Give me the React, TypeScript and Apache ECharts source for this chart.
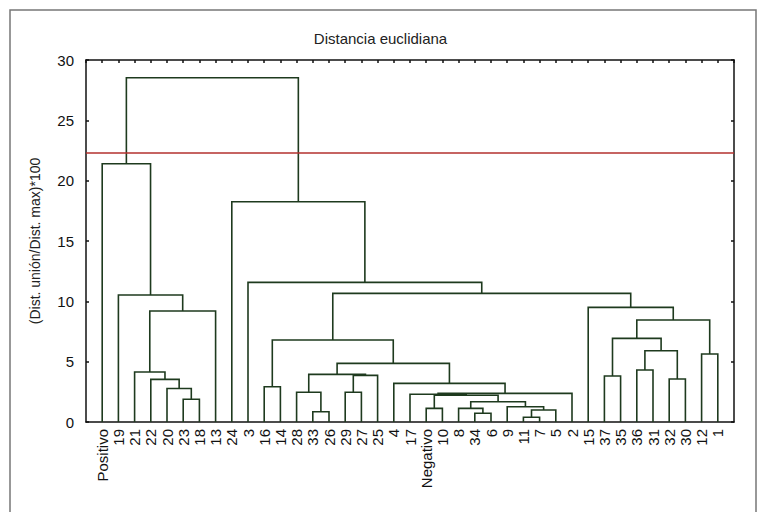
import React, { useEffect, useRef } from "react";
import * as echarts from "echarts";

// Leaf order along the x axis (left to right)
const leaves: string[] = [
  "Positivo", "19", "21", "22", "20", "23", "18", "13", "24", "3",
  "16", "14", "28", "33", "26", "29", "27", "25", "4", "17",
  "Negativo", "10", "8", "34", "6", "9", "11", "7", "5", "2",
  "15", "37", "35", "36", "31", "32", "30", "12", "1",
];

// Merges: [childA, childB, height]; "mK" refers to the K-th merge
const merges: [string, string, number][] = [
  ["23", "18", 1.88],        // m0
  ["20", "m0", 2.78],        // m1
  ["22", "m1", 3.53],        // m2
  ["21", "m2", 4.14],        // m3
  ["m3", "13", 9.2],         // m4
  ["19", "m4", 10.52],       // m5
  ["Positivo", "m5", 21.4],  // m6
  ["16", "14", 2.92],        // m7
  ["33", "26", 0.85],        // m8
  ["28", "m8", 2.46],        // m9
  ["29", "27", 2.46],        // m10
  ["m10", "25", 3.86],       // m11
  ["m9", "m11", 3.95],       // m12
  ["Negativo", "10", 1.13],  // m13
  ["34", "6", 0.72],         // m14
  ["8", "m14", 1.13],        // m15
  ["11", "7", 0.39],         // m16
  ["m16", "5", 0.99],        // m17
  ["9", "m17", 1.27],        // m18
  ["m15", "m18", 1.68],      // m19
  ["m13", "m19", 2.22],      // m20
  ["17", "m20", 2.3],        // m21
  ["m21", "2", 2.37],        // m22
  ["4", "m22", 3.2],         // m23
  ["m12", "m23", 4.86],      // m24
  ["m7", "m24", 6.79],       // m25
  ["37", "35", 3.81],        // m26
  ["36", "31", 4.31],        // m27
  ["32", "30", 3.56],        // m28
  ["m27", "m28", 5.9],       // m29
  ["m26", "m29", 6.93],      // m30
  ["12", "1", 5.63],         // m31
  ["m30", "m31", 8.45],      // m32
  ["15", "m32", 9.5],        // m33
  ["m25", "m33", 10.66],     // m34
  ["3", "m34", 11.57],       // m35
  ["24", "m35", 18.25],      // m36
  ["m6", "m36", 28.53],      // m37
];

const cutHeight = 22.3;
const yTicks = { min: 0, max: 30, interval: 5 };
const titleText = "Distancia euclidiana";
const yName = "(Dist. unión/Dist. max)*100";

const FONT = "'Liberation Sans', Arial, sans-serif";

export default function App() {
  const ref = useRef<HTMLDivElement>(null);

  useEffect(() => {
    if (!ref.current) return;
    const chart = echarts.init(ref.current, undefined, { renderer: "svg" });

    const pos: Record<string, { x: number; y: number }> = {};
    leaves.forEach((l, i) => (pos[l] = { x: i, y: 0 }));
    const segs: number[][] = [];
    merges.forEach(([a, b, h], i) => {
      const pa = pos[a];
      const pb = pos[b];
      segs.push([pa.x, pb.x, pa.y, pb.y, h]);
      pos["m" + i] = { x: (pa.x + pb.x) / 2, y: h };
    });

    const axisLineStyle = { color: "#111", width: 1.5 };
    const tickStyle = { color: "#111", width: 1.5 };
    const xMin = -1;
    const xMax = leaves.length;

    chart.setOption({
      animation: false,
      textStyle: { fontFamily: FONT },
      title: {
        text: titleText,
        left: "center",
        top: 26,
        textStyle: { fontSize: 15, fontWeight: "normal", color: "#222", fontFamily: FONT },
      },
      graphic: [
        {
          type: "rect",
          shape: { x: 10, y: 10, width: 746, height: 530 },
          style: { fill: "none", stroke: "#777", lineWidth: 1.5 },
          silent: true,
        },
      ],
      grid: { left: 86, right: 27, top: 60, bottom: 90, containLabel: false },
      xAxis: [
        {
          type: "value",
          min: xMin,
          max: xMax,
          interval: 1,
          position: "bottom",
          axisLine: { show: true, onZero: false, lineStyle: axisLineStyle },
          axisTick: { show: false },
          splitLine: { show: false },
          axisLabel: {
            rotate: 90,
            margin: 7,
            fontSize: 15,
            color: "#111",
            fontFamily: FONT,
            formatter: (v: number) => leaves[Math.round(v)] ?? "",
          },
        },
        {
          type: "value",
          min: xMin,
          max: xMax,
          interval: 1,
          position: "top",
          axisLine: { show: true, onZero: false, lineStyle: axisLineStyle },
          axisTick: { show: true, inside: true, length: 3, lineStyle: tickStyle },
          splitLine: { show: false },
          axisLabel: { show: false },
        },
      ],
      yAxis: [
        {
          type: "value",
          ...yTicks,
          position: "left",
          name: yName,
          nameLocation: "middle",
          nameGap: 44,
          nameTextStyle: { fontSize: 14, color: "#222", fontFamily: FONT },
          axisLine: { show: true, onZero: false, lineStyle: axisLineStyle },
          axisTick: { show: true, inside: true, length: 3, lineStyle: tickStyle },
          splitLine: { show: false },
          axisLabel: { fontSize: 15, color: "#111", margin: 12, fontFamily: FONT },
        },
        {
          type: "value",
          ...yTicks,
          position: "right",
          axisLine: { show: true, onZero: false, lineStyle: axisLineStyle },
          axisTick: { show: true, inside: true, length: 3, lineStyle: tickStyle },
          splitLine: { show: false },
          axisLabel: { show: false },
        },
      ],
      series: [
        {
          type: "custom",
          xAxisIndex: 0,
          yAxisIndex: 0,
          silent: true,
          data: segs,
          encode: { x: [0, 1], y: [2, 3, 4] },
          renderItem: (_params: any, api: any) => {
            const xa = api.value(0);
            const xb = api.value(1);
            const ya = api.value(2);
            const yb = api.value(3);
            const h = api.value(4);
            return {
              type: "polyline",
              shape: {
                points: [
                  api.coord([xa, ya]),
                  api.coord([xa, h]),
                  api.coord([xb, h]),
                  api.coord([xb, yb]),
                ],
              },
              style: { stroke: "#1e3a1e", lineWidth: 1.6, fill: "none" },
            };
          },
        },
        {
          type: "line",
          xAxisIndex: 0,
          yAxisIndex: 0,
          silent: true,
          symbol: "none",
          data: [
            [xMin, cutHeight],
            [xMax, cutHeight],
          ],
          lineStyle: { color: "#b3302e", width: 1.5 },
        },
      ],
    });

    return () => chart.dispose();
  }, []);

  return (
    <div
      ref={ref}
      style={{ position: "fixed", left: 0, top: 0, width: 761, height: 512, background: "#fff" }}
    />
  );
}
